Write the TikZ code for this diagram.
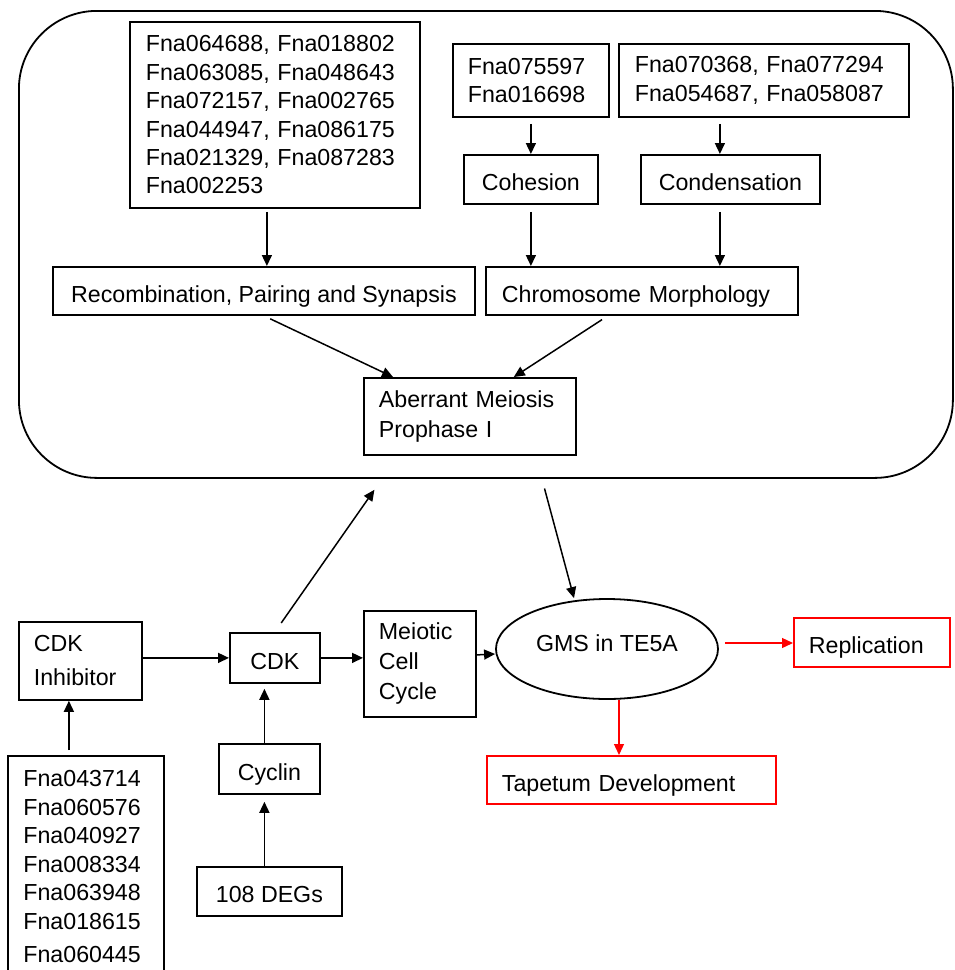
\documentclass[tikz,border=0pt]{standalone}
\usepackage{fontspec}
\setmainfont{Liberation Sans}
\usetikzlibrary{arrows.meta,shapes.geometric}
\begin{document}
\begin{tikzpicture}[x=0.5pt,y=-0.5pt,
  font=\fontsize{11.6pt}{14.2pt}\selectfont,
  box/.style={draw, line width=0.9pt, rectangle, inner sep=0pt, anchor=north west},
  cbox/.style={box, align=center, text height=12pt, text depth=0.9pt},
  lbox/.style={box, align=left},
  one/.style={text height=12pt, text depth=0.9pt},
  redbox/.style={draw=red},
  arr/.style={-{Triangle[length=5.5pt,width=5pt]}, line width=0.75pt},
  rarr/.style={arr, draw=red, fill=red, line width=0.65pt}
]
\useasboundingbox (0,0) rectangle (954,970);

% container
\node[draw, line width=0.9pt, rounded corners=39pt, inner sep=0pt, anchor=north west,
      minimum width=467pt, minimum height=233.5pt] (cont) at (18,10) {};

% top gene boxes
\node[lbox, minimum width=145pt, minimum height=93pt, text width=129pt, inner xsep=8pt] (A) at (129,21)
  {Fna064688, Fna018802\\Fna063085, Fna048643\\Fna072157, Fna002765\\Fna044947, Fna086175\\Fna021329, Fna087283\\Fna002253};
\node[lbox, minimum width=78pt, minimum height=36.5pt, text width=63pt, inner xsep=7.5pt] (B) at (452,43)
  {Fna075597\\Fna016698};
\node[lbox, minimum width=145pt, minimum height=36.5pt, text width=129pt, inner xsep=8pt] (C) at (618,43)
  {Fna070368, Fna077294\\Fna054687, Fna058087};

\node[cbox, minimum width=67pt, minimum height=24.5pt] (coh) at (463,154) {Cohesion};
\node[cbox, minimum width=89.5pt, minimum height=24.5pt] (con) at (640,154) {Condensation};

\node[cbox, minimum width=211pt, minimum height=24pt] (rec) at (52,266) {Recombination, Pairing and Synapsis};
\node[lbox, one, minimum width=156pt, minimum height=24pt, text width=140pt, inner xsep=8pt] (ch) at (485,266) {Chromosome Morphology};

\node[lbox, minimum width=106pt, minimum height=38.5pt, text width=91pt, inner xsep=7.5pt,
      font=\fontsize{11.6pt}{15pt}\selectfont] (ab) at (363,377) {Aberrant Meiosis\\Prophase I};

% bottom part
\node[lbox, minimum width=61.5pt, minimum height=39pt, text width=46.5pt, inner xsep=7.5pt,
      font=\fontsize{11.6pt}{17pt}\selectfont] (cdki) at (18,621) {CDK\\Inhibitor};
\node[cbox, minimum width=45pt, minimum height=25pt] (cdk) at (229,632) {CDK};
\node[lbox, minimum width=56pt, minimum height=53pt, text width=41pt, inner xsep=7.5pt,
      font=\fontsize{11.6pt}{15pt}\selectfont] (mc) at (363,610) {Meiotic\\Cell\\Cycle};

\node[box, minimum width=78pt, minimum height=110pt] (gl) at (7,755) {};
\node[anchor=north west, align=left, inner sep=0pt, font=\fontsize{11.6pt}{14.25pt}\selectfont] (glt) at (23,770)
  {Fna043714\\Fna060576\\Fna040927\\Fna008334\\Fna063948\\Fna018615\\[2.5pt]Fna060445};

\node[cbox, minimum width=50.5pt, minimum height=25pt] (cyc) at (218,743) {Cyclin};
\node[cbox, minimum width=72.5pt, minimum height=24.5pt] (degs) at (196,866) {108 DEGs};

\node[draw, ellipse, line width=0.9pt, inner sep=0pt, minimum width=111pt, minimum height=50pt,
      text height=8.3pt, text depth=6pt] (gms) at (607,649) {GMS in TE5A};

\node[lbox, one, redbox, minimum width=78pt, minimum height=24.5pt, text width=63pt, inner xsep=7.5pt] (rep) at (793,617) {Replication};
\node[lbox, one, redbox, minimum width=144.5pt, minimum height=24pt, text width=129.5pt, inner xsep=7.5pt] (tap) at (486,755) {Tapetum Development};

% top arrows
\draw[arr, shorten <=1.5pt] ([xshift=-4pt]A.south) -- ([xshift=-4pt]A.south |- rec.north);
\draw[arr, shorten <=3pt] (B.south) -- (B.south |- coh.north);
\draw[arr, shorten <=3pt] ([xshift=-5.25pt]con.north |- C.south) -- ([xshift=-5.25pt]con.north);
\draw[arr, shorten <=3.5pt] (coh.south) -- (coh.south |- ch.north);
\draw[arr, shorten <=3.5pt] ([xshift=-5.25pt]con.south) -- ([xshift=-5.25pt]con.south |- ch.north);
\draw[arr, shorten <=3.5pt] (rec.south) -- ([xshift=15pt]ab.north west);
\draw[arr, shorten <=3.5pt] ([xshift=-17pt]ch.south) -- ([xshift=-31.5pt]ab.north east);

% bottom arrows
\draw[arr, shorten <=2.5pt] ([xshift=-8.5pt]gl.north) -- ([xshift=-8.5pt]gl.north |- cdki.south);
\draw[arr] (cdki.east |- cdk) -- (cdk.west);
\draw[arr] (cdk.east) -- (cdk.east -| mc.west);
\draw[arr, shorten >=2.5pt] ([xshift=-2.5pt]cyc.north) -- ([xshift=-2.5pt]cyc.north |- cdk.south);
\draw[arr, shorten >=3.5pt] ([xshift=-2.5pt]degs.north) -- ([xshift=-2.5pt]degs.north |- cyc.south);
\draw[arr, shorten <=5.5pt] (cdk.north) -- ([xshift=-55.75pt,yshift=-5.5pt]cont.south);
\draw[arr, shorten <=5pt] ([xshift=28pt]cont.south) -- ([xshift=-16.5pt]gms.north);
\draw[arr] ([yshift=4.5pt]mc.east) -- ([yshift=-2.5pt]gms.west);

% red arrows
\draw[rarr, shorten <=3pt] ([yshift=3pt]gms.east) -- ([yshift=3pt]gms.east -| rep.west);
\draw[rarr] ([xshift=6pt]gms.south) -- ([xshift=6pt]gms.south |- tap.north);
\end{tikzpicture}
\end{document}
